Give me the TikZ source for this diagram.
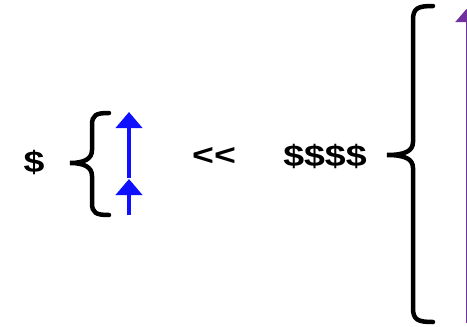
\documentclass[tikz,border=0pt]{standalone}
\usepackage{fontspec}
\setmainfont{Liberation Sans}
\usetikzlibrary{arrows.meta}
\definecolor{myblue}{HTML}{1010FF}
\definecolor{mypurple}{HTML}{7030A0}
\tikzset{
  brace/.style={line width=4.5pt, line cap=round, black},
  lbl/.style={font=\fontsize{30}{34}\selectfont\bfseries, inner sep=0pt, xscale=1.25},
  bluearrow/.style={myblue, line width=4pt, -{Triangle[length=16pt,width=26pt]}},
  purplearrow/.style={mypurple, line width=2pt, -{Triangle[length=13pt,width=22pt]}}
}
\begin{document}
\begin{tikzpicture}[x=1pt,y=-1pt]
\useasboundingbox (0,0) rectangle (467,327);
\node[lbl] (d1) at (34,162) {\$};
\node[lbl] (ll) at (214,156) {{<}{<}};
\node[lbl] (d4) at (325,156) {\$\$\$\$};
% small brace
\draw[brace] (109,113) .. controls (96,113) and (92,115) .. (92,125) -- (92,150)
  .. controls (92,159) and (84,163) .. (70,163)
  .. controls (84,163) and (92,167) .. (92,176) -- (92,203)
  .. controls (92,213) and (96,215) .. (109,215);
% big brace
\draw[brace] (433,6) .. controls (418,6) and (413,8) .. (413,20) -- (413,142)
  .. controls (413,151) and (405,155) .. (387,155)
  .. controls (405,155) and (413,159) .. (413,168) -- (413,308)
  .. controls (413,320) and (418,322) .. (433,322);
% blue arrows
\coordinate (b1s) at (129,178);
\coordinate (b1e) at (129,112);
\coordinate (b2s) at (129,215);
\coordinate (b2e) at (129,179);
\draw[bluearrow] (b1s) -- (b1e);
\draw[bluearrow] (b2s) -- (b2e);
% purple arrow
\coordinate (ps) at (466.5,323);
\coordinate (pe) at (466.5,9);
\draw[purplearrow] (ps) -- (pe);
\end{tikzpicture}
\end{document}
